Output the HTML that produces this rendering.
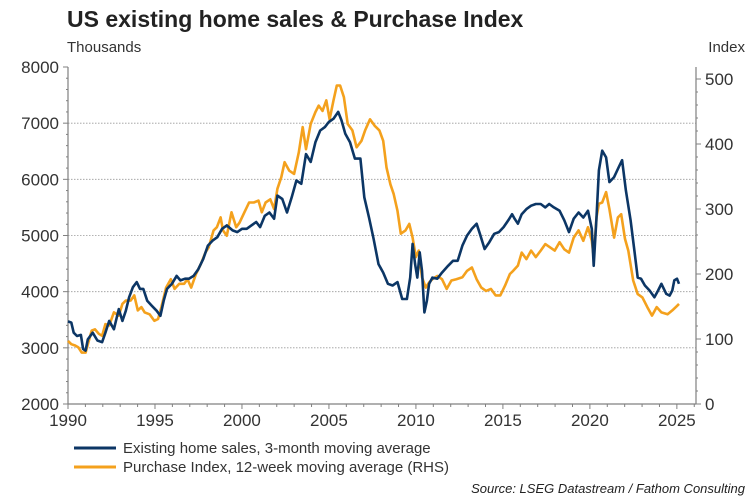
<!DOCTYPE html>
<html><head><meta charset="utf-8"><style>
html,body{margin:0;padding:0;background:#fff;}
svg{display:block;font-family:"Liberation Sans",Arial,sans-serif;}
</style></head><body>
<svg id="chart" width="750" height="500" viewBox="0 0 750 500">
<text x="67" y="27" font-size="23" font-weight="bold" fill="#222">US existing home sales &amp; Purchase Index</text>
<text x="67" y="52" font-size="15" fill="#333">Thousands</text>
<text x="745" y="52" font-size="15" fill="#333" text-anchor="end">Index</text>
<g id="grid"></g>
<g id="axes"></g>
<g id="series"></g>
<g>
<line x1="74" y1="448" x2="116" y2="448" stroke="#0c3665" stroke-width="3"/>
<text x="123" y="453" font-size="15" fill="#333">Existing home sales, 3-month moving average</text>
<line x1="74" y1="467" x2="116" y2="467" stroke="#f4a11d" stroke-width="3"/>
<text x="123" y="472" font-size="15" fill="#333">Purchase Index, 12-week moving average (RHS)</text>
</g>
<text x="745" y="493" font-size="13" font-style="italic" fill="#222" text-anchor="end">Source: LSEG Datastream / Fathom Consulting</text>
</svg>
<script>
const salesYears=[1990.00,1990.19,1990.33,1990.52,1990.74,1990.87,1991.01,1991.14,1991.42,1991.69,1991.96,1992.15,1992.37,1992.64,1992.92,1993.13,1993.32,1993.51,1993.73,1993.95,1994.14,1994.33,1994.55,1994.82,1995.10,1995.31,1995.50,1995.69,1995.97,1996.24,1996.46,1996.73,1996.95,1997.22,1997.49,1997.77,1998.04,1998.31,1998.58,1998.86,1999.13,1999.46,1999.73,2000.00,2000.27,2000.54,2000.82,2001.04,2001.31,2001.58,2001.85,2002.04,2002.32,2002.59,2002.86,2003.13,2003.41,2003.68,2003.95,2004.22,2004.50,2004.77,2004.99,2005.26,2005.53,2005.72,2005.94,2006.21,2006.49,2006.81,2007.03,2007.30,2007.57,2007.85,2008.12,2008.39,2008.66,2008.94,2009.21,2009.48,2009.67,2009.81,2009.95,2010.08,2010.22,2010.35,2010.49,2010.63,2010.76,2010.95,2011.23,2011.50,2011.85,2012.13,2012.40,2012.67,2012.94,2013.22,2013.49,2013.68,2013.95,2014.22,2014.50,2014.77,2015.04,2015.31,2015.53,2015.67,2015.86,2016.08,2016.35,2016.62,2016.89,2017.17,2017.44,2017.66,2017.93,2018.26,2018.53,2018.80,2019.07,2019.35,2019.62,2019.89,2020.11,2020.22,2020.38,2020.52,2020.71,2020.93,2021.12,2021.39,2021.66,2021.85,2022.07,2022.34,2022.56,2022.75,2022.94,2023.16,2023.43,2023.71,2023.92,2024.11,2024.39,2024.58,2024.74,2024.85,2025.01,2025.12];
const salesValues=[3470,3450,3270,3210,3230,2980,2950,3150,3270,3130,3100,3270,3480,3330,3690,3480,3660,3900,4080,4170,4050,4050,3840,3750,3660,3570,3840,4050,4140,4280,4200,4230,4230,4280,4400,4580,4820,4910,4970,5120,5180,5090,5060,5120,5120,5180,5240,5150,5350,5410,5300,5710,5650,5410,5680,5980,5920,6450,6310,6660,6870,6930,7020,7080,7200,7050,6810,6660,6370,6370,5680,5320,4940,4490,4340,4140,4110,4170,3870,3870,4250,4850,4490,4250,4700,4370,3630,3840,4140,4250,4230,4340,4460,4550,4550,4820,5000,5120,5210,5030,4760,4880,5030,5060,5150,5270,5380,5300,5210,5380,5470,5530,5560,5560,5500,5560,5500,5440,5270,5060,5300,5410,5320,5440,5120,4460,5320,6160,6510,6390,5950,6040,6220,6340,5800,5270,4730,4250,4230,4110,4020,3900,4020,4140,3960,3930,4020,4200,4230,4140];
const purchaseYears=[1990.00,1990.19,1990.41,1990.60,1990.79,1991.01,1991.17,1991.36,1991.55,1991.77,1991.96,1992.15,1992.37,1992.64,1992.92,1993.13,1993.32,1993.60,1993.81,1994.01,1994.22,1994.41,1994.69,1994.96,1995.18,1995.37,1995.64,1995.91,1996.13,1996.40,1996.68,1996.87,1997.08,1997.36,1997.63,1997.90,1998.09,1998.37,1998.56,1998.77,1998.91,1999.13,1999.40,1999.67,1999.86,2000.14,2000.41,2000.68,2000.95,2001.14,2001.36,2001.63,2001.85,2002.04,2002.26,2002.45,2002.72,2003.00,2003.27,2003.49,2003.68,2003.95,2004.22,2004.41,2004.63,2004.85,2005.04,2005.26,2005.45,2005.64,2005.86,2006.08,2006.35,2006.59,2006.87,2007.08,2007.36,2007.63,2007.90,2008.12,2008.31,2008.53,2008.72,2008.94,2009.13,2009.40,2009.62,2009.81,2010.00,2010.16,2010.35,2010.57,2010.76,2010.95,2011.23,2011.50,2011.77,2012.04,2012.32,2012.67,2012.94,2013.22,2013.49,2013.76,2014.03,2014.31,2014.58,2014.85,2015.12,2015.40,2015.59,2015.86,2016.08,2016.35,2016.62,2016.89,2017.17,2017.44,2017.71,2017.98,2018.26,2018.53,2018.80,2019.07,2019.35,2019.62,2019.89,2020.11,2020.22,2020.38,2020.52,2020.71,2020.93,2021.12,2021.39,2021.61,2021.80,2022.02,2022.21,2022.49,2022.75,2023.02,2023.30,2023.57,2023.84,2024.11,2024.47,2024.74,2025.01,2025.12];
const purchaseValues=[97,92,90,87,79,79,95,113,115,108,105,123,121,141,136,154,159,159,167,144,149,141,138,128,131,149,179,192,177,185,185,192,179,200,215,233,241,267,272,287,267,259,295,272,279,295,310,310,313,295,310,315,300,331,349,372,359,354,387,426,392,431,449,459,451,467,438,467,490,490,472,431,421,395,405,421,438,428,421,405,364,338,323,297,262,267,277,256,226,236,195,179,187,192,197,192,177,190,192,195,205,210,192,179,174,177,167,167,182,200,205,213,233,223,236,226,236,246,241,236,249,238,233,256,267,251,272,251,226,287,308,310,326,300,256,287,292,254,236,190,169,164,149,136,149,141,138,144,151,154];
const leftTicks=[2000,3000,4000,5000,6000,7000,8000];
const rightTicks=[0,100,200,300,400,500];
const xTickYears=[1990,1995,2000,2005,2010,2015,2020,2025];

const NS='http://www.w3.org/2000/svg';
const X0=68,X1=696,Y0=404,YT=67;
const xScale=y=>X0+(y-1990)*(X1-X0)/36.1;
const yLeft=v=>Y0-(v-2000)*(Y0-YT)/6000;
const yRight=v=>Y0-v*(Y0-79)/500;
function mk(tag,attrs,parent){const e=document.createElementNS(NS,tag);for(const k in attrs)e.setAttribute(k,attrs[k]);parent.appendChild(e);return e;}
const grid=document.getElementById('grid'),axes=document.getElementById('axes'),series=document.getElementById('series');
leftTicks.forEach(v=>{
  const y=yLeft(v);
  if(v>2000&&v<8000){const g=mk('line',{x1:X0,x2:X1,y1:y,y2:y,stroke:'#9a9a9a','stroke-width':0.8,'stroke-dasharray':'1.5,1.5'},grid);
  
  }
  mk('line',{x1:X0-5,x2:X0,y1:y,y2:y,stroke:'#808080','stroke-width':1},axes);
  const t=mk('text',{x:X0-9,y:y+6,'font-size':17,fill:'#333','text-anchor':'end'},axes);t.textContent=v;
  
  
});
for(let v=2200;v<8000;v+=200){if(v%1000)mk('line',{x1:X0-2,x2:X0,y1:yLeft(v),y2:yLeft(v),stroke:'#808080'},axes);}
rightTicks.forEach(v=>{
  const y=yRight(v);
  mk('line',{x1:X1,x2:X1+5,y1:y,y2:y,stroke:'#808080'},axes);
  const t=mk('text',{x:X1+9,y:y+6,'font-size':17,fill:'#333'},axes);t.textContent=v;
  
  
});
for(let v=20;v<520;v+=20){if(v%100)mk('line',{x1:X1,x2:X1+2,y1:yRight(v),y2:yRight(v),stroke:'#808080'},axes);}
for(let yr=1990;yr<=2026;yr++){const x=xScale(yr);mk('line',{x1:x,x2:x,y1:Y0,y2:Y0+(yr%5?3:5),stroke:'#808080'},axes);}
xTickYears.forEach(yr=>{
  const t=mk('text',{x:xScale(yr),y:Y0+22,'font-size':17,fill:'#333','text-anchor':'middle'},axes);t.textContent=yr;
  
  
});
const la=mk('line',{x1:X0,x2:X0,y1:YT,y2:Y0,stroke:'#808080','stroke-width':1.2},axes);


const ra=mk('line',{x1:X1,x2:X1,y1:YT,y2:Y0,stroke:'#808080','stroke-width':1.2},axes);


const ba=mk('line',{x1:X0,x2:X1,y1:Y0,y2:Y0,stroke:'#808080','stroke-width':1.2},axes);


const pp=mk('polyline',{points:purchaseYears.map((yr,i)=>xScale(yr).toFixed(1)+','+yRight(purchaseValues[i]).toFixed(1)).join(' '),fill:'none',stroke:'#f4a11d','stroke-width':2.6,'stroke-linejoin':'round'},series);


const sp=mk('polyline',{points:salesYears.map((yr,i)=>xScale(yr).toFixed(1)+','+yLeft(salesValues[i]).toFixed(1)).join(' '),fill:'none',stroke:'#0c3665','stroke-width':2.6,'stroke-linejoin':'round'},series);


</script>
</body></html>
